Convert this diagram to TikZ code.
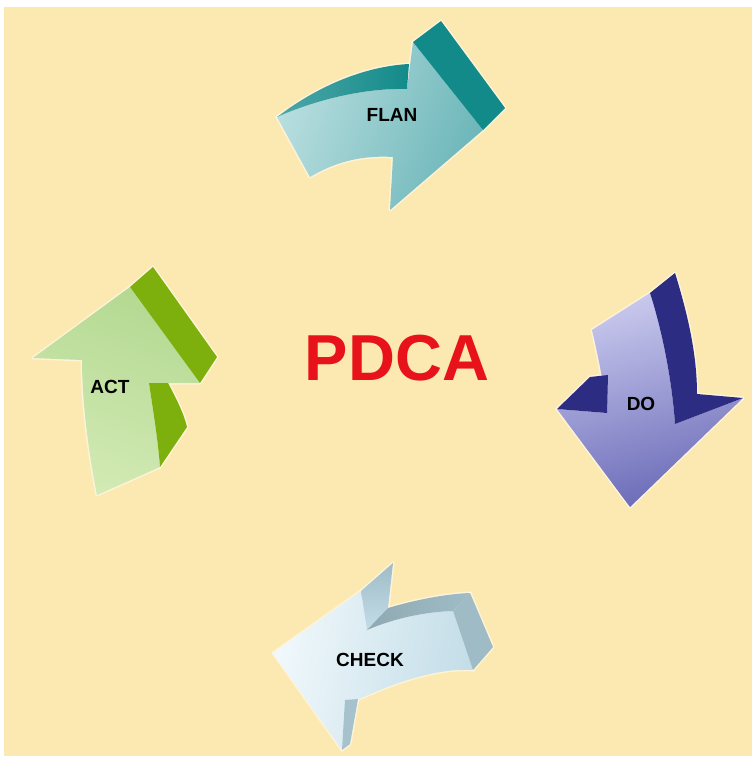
\documentclass[tikz,border=0pt]{standalone}
\usepackage{fontspec}
\setmainfont{Liberation Sans}
\begin{document}
\begin{tikzpicture}[x=1pt,y=-1pt,
  glow/.style={draw=white,line width=3pt,line join=round,opacity=0.5},
  lab/.style={font=\bfseries\fontsize{19}{19}\selectfont,text=black},
]
\definecolor{bg}{HTML}{FCE8B1}
\definecolor{teal}{HTML}{138A8A}
\definecolor{tealL}{HTML}{B8DEDF}
\definecolor{tealM}{HTML}{6CB6B9}
\definecolor{navy}{HTML}{2C2C82}
\definecolor{lavL}{HTML}{C9C9EE}
\definecolor{lavM}{HTML}{6A6AB8}
\definecolor{grn}{HTML}{7DB00C}
\definecolor{grnL}{HTML}{D2EAB4}
\definecolor{grnM}{HTML}{B4D992}
\definecolor{iceL}{HTML}{F0F8FB}
\definecolor{iceM}{HTML}{C3DDE8}
\definecolor{iceD}{HTML}{9FBCC6}
\definecolor{pdcared}{HTML}{E8121A}
\useasboundingbox (0,0) rectangle (752,758);
\fill[white] (0,0) rectangle (752,758);
\fill[bg] (4,7) rectangle (752,756);
% ---- paths
\newcommand\planFace{(277,117) .. controls (320,98) and (368,88) .. (407,89) -- (413,42) -- (483,130) -- (390,210) -- (393,157) .. controls (362,155) and (335,162) .. (310,177) -- cycle}
\newcommand\planBand{(288,109) .. controls (330,80) and (372,66) .. (409,64) -- (407,89) .. controls (368,88) and (320,98) .. (277,117) -- cycle}
\newcommand\planHead{(413,42) -- (441,21) -- (505,108) -- (483,130) -- cycle}
\newcommand\doFace{(592,330) -- (650,293) .. controls (662,330) and (672,380) .. (675,424) -- (743,398) -- (630,507) -- (557,409) -- (607,413) .. controls (604,385) and (598,355) .. (592,330) -- cycle}
\newcommand\doRight{(650,293) -- (675,273) .. controls (688,315) and (697,355) .. (697,394) -- (743,398) -- (675,424) .. controls (672,380) and (662,330) .. (650,293) -- cycle}
\newcommand\doLeft{(557,409) -- (590,377) -- (608,375) -- (607,413) -- cycle}
\newcommand\chFace{(273,653) -- (361,591) -- (367,630) .. controls (395,618) and (425,612) .. (453,611) -- (473,670) .. controls (440,668) and (400,680) .. (357,700) -- (342,750) -- cycle}
\newcommand\chTop{(361,591) -- (393,563) -- (388,608) -- (367,630) -- cycle}
\newcommand\chBand{(367,630) -- (388,608) .. controls (415,600) and (445,594) .. (470,593) -- (453,611) .. controls (425,612) and (395,618) .. (367,630) -- cycle}
\newcommand\chEnd{(453,611) -- (470,593) -- (493,647) -- (473,670) -- cycle}
\newcommand\chLow{(345,700) -- (358,699) -- (350,744) -- (342,750) -- cycle}
\newcommand\actFace{(33,358) -- (130,287) -- (200,383) -- (149,383) .. controls (153,410) and (158,440) .. (160,467) -- (97,495) .. controls (88,450) and (82,400) .. (82,360) -- cycle}
\newcommand\actTop{(130,287) -- (153,267) -- (217,357) -- (200,383) -- cycle}
\newcommand\actSide{(149,383) -- (168,383) .. controls (176,398) and (184,414) .. (187,427) -- (160,467) .. controls (158,440) and (153,410) .. (149,383) -- cycle}
% ---- glow pass
\foreach \p in {\planFace,\planBand,\planHead,\doFace,\doRight,\doLeft,\chFace,\chTop,\chBand,\chEnd,\chLow,\actFace,\actTop,\actSide}{
  \path[glow] \p;
}
% ---- PLAN
\shade[left color=tealL,right color=tealM,shading angle=70] \planFace;
\shade[left color=teal!75,right color=teal] \planBand;
\fill[teal] \planHead;
% ---- DO
\shade[top color=lavL,bottom color=lavM,shading angle=15] \doFace;
\fill[navy] \doRight;
\fill[navy] \doLeft;
% ---- CHECK
\shade[left color=iceL,right color=iceM,shading angle=80] \chFace;
\shade[top color=iceD,bottom color=iceM] \chTop;
\shade[left color=iceD!90!black,right color=iceD] \chBand;
\fill[iceD] \chEnd;
\fill[iceD!80!iceM] \chLow;
% ---- ACT
\shade[top color=grnM,bottom color=grnL,shading angle=-20] \actFace;
\fill[grn] \actTop;
\fill[grn] \actSide;
% ---- labels
\node[lab] (plan) at (392,115) {FLAN};
\node[lab] (do) at (641,404) {DO};
\node[lab] (check) at (370,660) {CHECK};
\node[lab] (act) at (110,387) {ACT};
\node[font=\bfseries\fontsize{65}{65}\selectfont,text=pdcared] (pdca) at (397,358) {PDCA};
\end{tikzpicture}
\end{document}
